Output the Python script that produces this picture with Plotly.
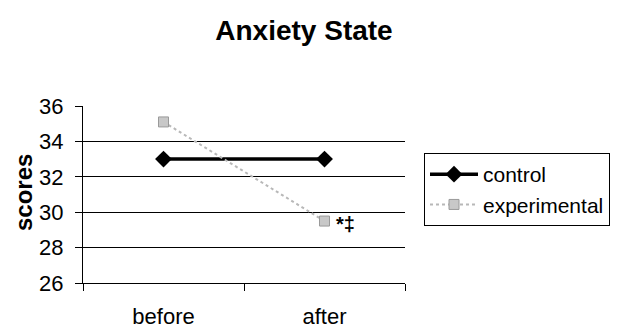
import plotly.graph_objects as go

categories = ["before", "after"]
control = [33.0, 33.0]
experimental = [35.1, 29.5]
y_ticks = [26, 28, 30, 32, 34, 36]
title_text = "Anxiety State"
y_title = "scores"
sig_mark = "*‡"

FONT = "Liberation Sans, Arial, sans-serif"

# page has an 8px body margin: figure is drawn 8px right/down of the window corner
W, H = 611, 321
L, R, T, B = 75, 397, 98, 275  # plot area in figure pixels

fig = go.Figure()
fig.add_trace(go.Scatter(
    x=categories, y=control, name="control", mode="lines+markers",
    line=dict(color="black", width=3.5),
    marker=dict(symbol="diamond", size=13, color="black"),
))
fig.add_trace(go.Scatter(
    x=categories, y=experimental, name="experimental", mode="lines+markers",
    line=dict(color="#b8b8b8", width=2, dash="dot"),
    marker=dict(symbol="square", size=10, color="#c8c8c8",
                line=dict(color="#9a9a9a", width=1)),
))

fig.add_annotation(x=categories[1], y=experimental[1], text="<b>" + sig_mark + "</b>",
                   showarrow=False, xanchor="left", yanchor="middle", xshift=9, yshift=-3,
                   font=dict(size=20, color="black", family=FONT))
fig.add_annotation(x=(15 - L) / (R - L), y=(B - 185) / (B - T), xref="paper", yref="paper",
                   text="<b>" + y_title + "</b>",
                   textangle=-90, showarrow=False, xanchor="center", yanchor="middle",
                   font=dict(size=24, color="black", family=FONT))

fig.update_layout(
    width=W, height=H,
    margin=dict(l=L, r=W - R, t=T, b=H - B, autoexpand=False),
    paper_bgcolor="white", plot_bgcolor="white",
    font=dict(family=FONT, color="black", size=21),
    title=dict(text="<b>" + title_text + "</b>", x=296 / W, xanchor="center",
               y=1 - 22 / H, yanchor="middle", yref="container",
               font=dict(size=28, family=FONT, color="black")),
    showlegend=True,
    legend=dict(x=(416 - L) / (R - L), y=(B - 145) / (B - T), xanchor="left", yanchor="top",
                bordercolor="black", borderwidth=1, bgcolor="white",
                font=dict(size=21, family=FONT), itemwidth=48, tracegroupgap=2),
)
fig.update_xaxes(type="category", tickson="boundaries", ticks="outside", ticklen=7,
                 tickcolor="black", showline=True, linecolor="black", linewidth=1,
                 showgrid=False, ticklabelstandoff=14, tickfont=dict(size=22),
                 range=[-0.5, 1.5], automargin=False)
fig.update_yaxes(range=[26, 36], tickvals=y_ticks, ticks="outside", ticklen=7,
                 tickcolor="black", showline=True, linecolor="black", linewidth=1,
                 showgrid=True, gridcolor="black", gridwidth=1, zeroline=False,
                 ticklabelstandoff=7, tickfont=dict(size=22), automargin=False)

fig.write_html("out.html")
